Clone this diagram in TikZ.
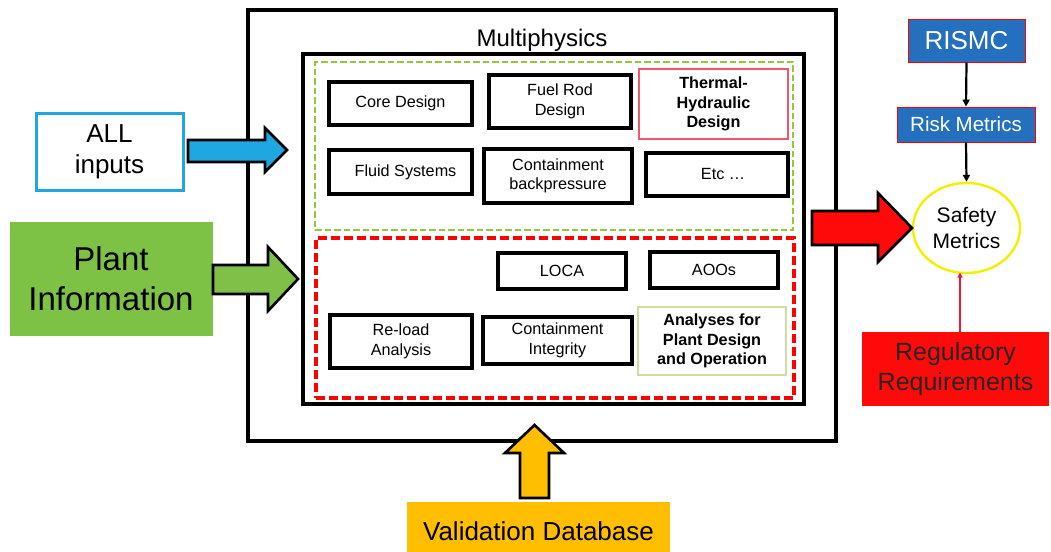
\documentclass[tikz,border=0pt]{standalone}
\usepackage{fontspec}
\setmainfont{Liberation Sans}
\usetikzlibrary{arrows.meta,shapes.geometric}

\definecolor{inblue}{HTML}{1EA7E1}
\definecolor{plantgreen}{HTML}{7DC244}
\definecolor{arrowgreen}{HTML}{80C048}
\definecolor{hotred}{HTML}{FF0A0A}
\definecolor{amber}{HTML}{FFBE00}
\definecolor{riskblue}{HTML}{2470BE}
\definecolor{dashgreen}{HTML}{94C83A}
\definecolor{thpink}{HTML}{F0566E}
\definecolor{paleolive}{HTML}{CFDCA2}
\definecolor{ringyellow}{HTML}{F4EE00}
\definecolor{deepred}{HTML}{F01830}

\tikzset{
  frame/.style={draw=black, line width=3.2pt, inner sep=0pt},
  task/.style={draw=black, line width=3.2pt, align=center, inner sep=1pt,
    font=\fontsize{16.2}{19.5}\selectfont},
  boldtask/.style={task, font=\fontsize{16.2}{19.5}\selectfont\bfseries},
  blockarrow/.style={draw=black, line width=2.6pt, line join=miter},
  link/.style={draw=black, line width=2.2pt, -{Triangle[length=7pt,width=7pt]}},
}

\begin{document}
\begin{tikzpicture}[x=1pt, y=-1pt]
\useasboundingbox (0,0) rectangle (1051,551);
\fill[white] (0,0) rectangle (1051,551);

% Multiphysics frame and its two groups
\node[frame, minimum width=588, minimum height=431] (outer) at (542,225.5) {};
\node[font=\fontsize{24}{28}\selectfont] (mp) at (542,40.5) {Multiphysics};
\node[frame, minimum width=501, minimum height=350] (inner) at (553.5,229) {};
\node[draw=dashgreen, line width=2.8pt, dash pattern=on 6.5pt off 3pt,
      minimum width=478, minimum height=168, inner sep=0pt] (design) at (554,146) {};
\node[draw=red, line width=3.2pt, dash pattern=on 9pt off 4pt,
      minimum width=478, minimum height=160, inner sep=0pt] (analysis) at (555,318) {};

% design tasks
\node[task, minimum width=143, minimum height=43] (core) at (400.5,103.5) {Core Design};
\node[task, minimum width=142, minimum height=53] (fuel) at (560,101.5) {Fuel Rod\\Design};
\node[boldtask, draw=thpink, line width=1.2pt, minimum width=149, minimum height=70] (th) at (713.5,104) {Thermal-\\Hydraulic\\Design};
\node[task, minimum width=143, minimum height=44] (fluid) at (400.5,172) {\hspace{10pt}Fluid Systems};
\node[task, minimum width=148, minimum height=54] (cbp) at (558,176) {Containment\\backpressure};
\node[task, minimum width=142, minimum height=43] (etc) at (717,174.5) {\hspace{12pt}Etc \ldots};

% analysis tasks
\node[task, minimum width=128, minimum height=36] (loca) at (562,271) {LOCA};
\node[task, minimum width=128, minimum height=36] (aoo) at (714,270) {AOOs};
\node[task, minimum width=142, minimum height=53] (reload) at (401,341.5) {Re-load\\Analysis};
\node[task, minimum width=149, minimum height=47] (cint) at (557.5,340.5) {Containment\\Integrity};
\node[boldtask, draw=paleolive, line width=1.2pt, minimum width=148, minimum height=68] (ana) at (712,341) {Analyses for\\Plant Design\\and Operation};

% inputs on the left
\node[draw=inblue, line width=3pt, minimum width=147, minimum height=77, align=center,
      font=\fontsize{26}{31}\selectfont] (all) at (109.5,152) {ALL\\inputs};
\node[fill=plantgreen, minimum width=203, minimum height=114, align=center,
      font=\fontsize{33}{40}\selectfont] (plant) at (111,279) {Plant\\Information};

% safety metrics on the right
\node[draw=ringyellow, line width=2.4pt, ellipse, minimum width=107, minimum height=90,
      inner sep=0pt, align=center, font=\fontsize{21}{26}\selectfont] (safety) at (966.5,228) {Safety\\Metrics};
\node[fill=riskblue, draw=red, line width=0.8pt, minimum width=117, minimum height=43,
      text=white, font=\fontsize{26}{30}\selectfont] (rismc) at (966.5,40.5) {RISMC};
\node[fill=riskblue, draw=red, line width=0.8pt, minimum width=138, minimum height=35,
      text=white, font=\fontsize{20.5}{24}\selectfont] (risk) at (966,124.5) {Risk Metrics};
\node[fill=hotred, minimum width=187, minimum height=74, align=center,
      text=black!85, font=\fontsize{25}{30}\selectfont] (reg) at (955.5,369) {Regulatory\\Requirements};
\node[fill=amber, minimum width=263, minimum height=58,
      font=\fontsize{26}{30}\selectfont] (valid) at (538.5,531) {Validation Database};

\draw[link] (rismc.south) -- (risk.north);
\draw[link] (risk.south) -- (safety.north);
\draw[draw=deepred, line width=1.4pt, -{Triangle[length=5pt,width=5pt]}]
  (reg.north -| 960,0) -- (960,272.5);

% block arrows feeding the multiphysics frame and leaving it
\draw[blockarrow, fill=inblue]
  (188,140) -- (265,140) -- (265,128) -- (287,150) -- (265,172) -- (265,162) -- (188,162) -- cycle;
\draw[blockarrow, fill=arrowgreen]
  (213,265) -- (268,265) -- (268,247) -- (298,279) -- (268,311) -- (268,294) -- (213,294) -- cycle;
\draw[blockarrow, fill=hotred]
  (812,211) -- (878,211) -- (878,193) -- (912,228) -- (878,262) -- (878,245) -- (812,245) -- cycle;
\draw[blockarrow, fill=amber]
  (520,498) -- (520,453) -- (505,453) -- (534.5,425) -- (564,453) -- (549,453) -- (549,498) -- cycle;
\end{tikzpicture}
\end{document}
